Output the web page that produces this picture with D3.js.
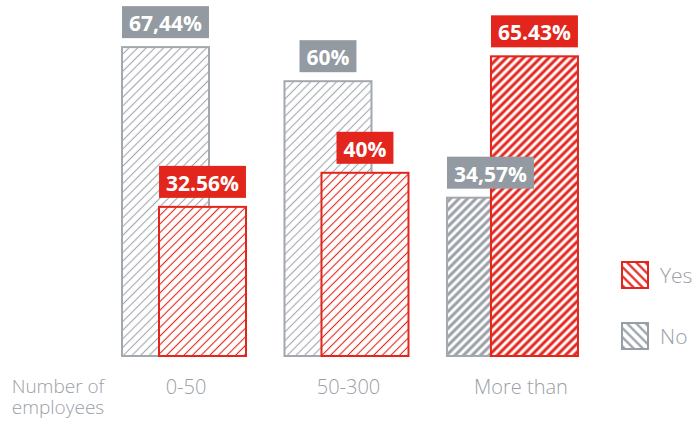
<!DOCTYPE html>
<html>
<head>
<meta charset="utf-8">
<script src="https://cdn.jsdelivr.net/npm/d3@7"></script>
<style>
  body { margin: 0; background: #fff; }
  text { font-family: "Open Sans", "Noto Sans", sans-serif; }
</style>
</head>
<body>
<div id="viz"></div>
<script>
// data
var categories = ["0-50", "50-300", "More than"];
var noValues = [67.44, 60, 34.57];
var yesValues = [32.56, 40, 65.43];
var noLabels = ["67,44%", "60%", "34,57%"];
var yesLabels = ["32.56%", "40%", "65.43%"];
var seriesNames = ["Yes", "No"];
var axisTitleLines = ["Number of", "employees"];

var width = 695, height = 422;
var red = "#e2261d", grey = "#989ea5";

var svg = d3.select("#viz")
  .append("svg")
  .attr("width", width)
  .attr("height", height);

// hatch patterns
var defs = svg.append("defs");
function hatch(id, color, lineW, spacing, angle) {
  var p = defs.append("pattern")
    .attr("id", id)
    .attr("patternUnits", "userSpaceOnUse")
    .attr("width", spacing)
    .attr("height", spacing)
    .attr("patternTransform", "rotate(" + angle + ")");
  p.append("rect").attr("width", spacing).attr("height", spacing).attr("fill", "#fff");
  p.append("line")
    .attr("x1", spacing / 2).attr("x2", spacing / 2)
    .attr("y1", 0).attr("y2", spacing)
    .attr("stroke", color)
    .attr("stroke-width", lineW);
}
hatch("thin-no", "#a3a8ae", 1.1, 6.1, 45);
hatch("thin-yes", red, 1.1, 6.1, 45);
hatch("thick-no", grey, 3, 6, 45);
hatch("thick-yes", red, 3, 6, 45);
hatch("leg-no", grey, 2.2, 6.5, -45);
hatch("leg-yes", red, 2.2, 6.5, -45);

// scales
var x = d3.scaleBand()
  .domain(categories)
  .range([122, 575])
  .paddingInner(0.212)
  .paddingOuter(0);

var y = d3.scaleLinear()
  .domain([0, 100])
  .range([356, 356 - 458]);

var barW = 87, offset = 37;

function drawBar(cat, i, value, kind) {
  var heavy = i === categories.length - 1;
  var bx = x(cat) + (kind === "yes" ? (heavy ? 44 : offset) : 0);
  var pat = (heavy ? "thick-" : "thin-") + kind;
  svg.append("rect")
    .attr("x", bx)
    .attr("y", y(value))
    .attr("width", barW)
    .attr("height", y(0) - y(value))
    .attr("fill", "url(#" + pat + ")")
    .attr("stroke", kind === "yes" ? red : "#a3a8ae")
    .attr("stroke-width", 2);
  return bx;
}

function drawLabel(cx, value, label, color) {
  var g = svg.append("g");
  var t = g.append("text")
    .attr("x", cx)
    .attr("y", y(value) - 16)
    .attr("text-anchor", "middle")
    .attr("fill", "#fff")
    .style("font-size", "21px")
    .style("font-weight", "bold")
    .text(label);
  var w = t.node().getComputedTextLength() + 14;
  g.insert("rect", "text")
    .attr("x", cx - w / 2)
    .attr("y", y(value) - 41)
    .attr("width", w)
    .attr("height", 32)
    .attr("fill", color);
}

categories.forEach(function(cat, i) {
  var gx = drawBar(cat, i, noValues[i], "no");
  var rx = drawBar(cat, i, yesValues[i], "yes");
  drawLabel(gx + barW / 2, noValues[i], noLabels[i], "#939aa1");
  drawLabel(rx + barW / 2, yesValues[i], yesLabels[i], red);
});

// category labels
var labelColor = "#9ba0a6";
svg.selectAll(".cat")
  .data(categories)
  .enter().append("text")
  .attr("class", "cat")
  .attr("x", function(d, i) { return x(d) + x.bandwidth() / 2 + (i === 2 ? 10 : 0); })
  .attr("y", 394)
  .attr("text-anchor", "middle")
  .attr("fill", labelColor)
  .style("font-size", "20px")
  .style("font-weight", 300)
  .text(function(d) { return d; });

// axis title, two lines
svg.selectAll(".axis-title")
  .data(axisTitleLines)
  .enter().append("text")
  .attr("class", "axis-title")
  .attr("x", 58)
  .attr("y", function(d, i) { return 393 + i * 21; })
  .attr("text-anchor", "middle")
  .attr("fill", labelColor)
  .style("font-size", "19px")
  .style("font-weight", 300)
  .text(function(d) { return d; });

// legend
var legend = svg.selectAll(".legend")
  .data(seriesNames)
  .enter().append("g")
  .attr("class", "legend")
  .attr("transform", function(d, i) { return "translate(622," + (262 + i * 61) + ")"; });

legend.append("rect")
  .attr("width", 26)
  .attr("height", 26)
  .attr("fill", function(d) { return d === "Yes" ? "url(#leg-yes)" : "url(#leg-no)"; })
  .attr("stroke", function(d) { return d === "Yes" ? red : grey; })
  .attr("stroke-width", 2);

legend.append("text")
  .attr("x", 38)
  .attr("y", 21)
  .attr("fill", labelColor)
  .style("font-size", "21px")
  .style("font-weight", 300)
  .text(function(d) { return d; });
</script>
</body>
</html>
